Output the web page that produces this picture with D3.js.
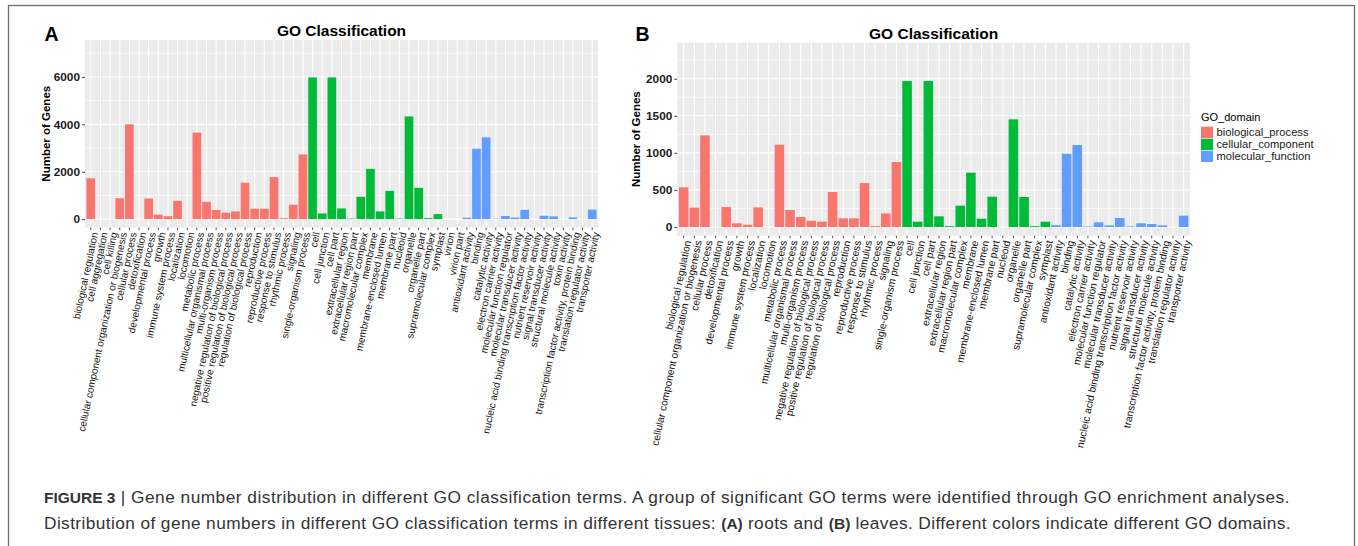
<!DOCTYPE html>
<html>
<head>
<meta charset="utf-8">
<script src="https://cdn.jsdelivr.net/npm/d3@7"></script>
<style>
  body { margin: 0; background: #fff; }
  svg { display: block; font-family: "Liberation Sans", Arial, Helvetica, sans-serif; }
</style>
</head>
<body>
<svg id="fig" width="1358" height="546"></svg>
<script>
/* GO terms and gene counts */

// panel A (roots)
var bpTermsA = ["biological regulation", "cell aggregation", "cell killing",
  "cellular component organization or biogenesis", "cellular process", "detoxification",
  "developmental process", "growth", "immune system process", "localization", "locomotion",
  "metabolic process", "multicellular organismal process", "multi-organism process",
  "negative regulation of biological process", "positive regulation of biological process",
  "regulation of biological process", "reproduction", "reproductive process",
  "response to stimulus", "rhythmic process", "signaling", "single-organism process"];
var bpValsA = [1720, 3, 3, 880, 4000, 5, 870, 190, 120, 770, 10, 3650, 730, 385, 270, 325,
  1535, 437, 437, 1770, 35, 605, 2730];

var ccTermsA = ["cell", "cell junction", "cell part", "extracellular region",
  "extracellular region part", "macromolecular complex", "membrane", "membrane-enclosed lumen",
  "membrane part", "nucleoid", "organelle", "organelle part", "supramolecular complex",
  "symplast", "virion", "virion part"];
var ccValsA = [5980, 235, 5980, 450, 20, 940, 2120, 325, 1190, 20, 4330, 1320, 40, 210, 0, 0];

var mfTermsA = ["antioxidant activity", "binding", "catalytic activity", "electron carrier activity",
  "molecular function regulator", "molecular transducer activity",
  "nucleic acid binding transcription factor activity", "nutrient reservoir activity",
  "signal transducer activity", "structural molecule activity", "toxin activity",
  "transcription factor activity, protein binding", "translation regulator activity",
  "transporter activity"];
var mfValsA = [55, 2970, 3450, 15, 130, 60, 390, 0, 140, 115, 0, 70, 0, 400];

// panel B (leaves)
var bpTermsB = ["biological regulation", "cellular component organization or biogenesis",
  "cellular process", "detoxification", "developmental process", "growth",
  "immune system process", "localization", "locomotion", "metabolic process",
  "multicellular organismal process", "multi-organism process",
  "negative regulation of biological process", "positive regulation of biological process",
  "regulation of biological process", "reproduction", "reproductive process",
  "response to stimulus", "rhythmic process", "signaling", "single-organism process"];
var bpValsB = [535, 261, 1236, 0, 270, 50, 31, 265, 0, 1110, 229, 135, 85, 72, 472, 117, 117,
  593, 13, 184, 876];

var ccTermsB = ["cell", "cell junction", "cell part", "extracellular region",
  "extracellular region part", "macromolecular complex", "membrane", "membrane-enclosed lumen",
  "membrane part", "nucleoid", "organelle", "organelle part", "supramolecular complex", "symplast"];
var ccValsB = [1969, 72, 1969, 144, 12, 288, 733, 112, 409, 0, 1452, 405, 12, 72];

var mfTermsB = ["antioxidant activity", "binding", "catalytic activity", "electron carrier activity",
  "molecular function regulator", "molecular transducer activity",
  "nucleic acid binding transcription factor activity", "nutrient reservoir activity",
  "signal transducer activity", "structural molecule activity",
  "transcription factor activity, protein binding", "translation regulator activity",
  "transporter activity"];
var mfValsB = [25, 989, 1106, 8, 63, 22, 121, 8, 50, 40, 22, 0, 153];

var domains = ["biological_process", "cellular_component", "molecular_function"];
var domainColors = ["#F8766D", "#00BA38", "#619CFF"];

var yTicksA = [0, 2000, 4000, 6000];
var yMinorA = [1000, 3000, 5000, 7000];
var yTicksB = [0, 500, 1000, 1500, 2000];
var yMinorB = [250, 750, 1250, 1750, 2250];

/* build rows for one panel */
var makeRows = function(groups) {
  var rows = [];
  groups.forEach(function(g, i) {
    g[0].forEach(function(t, j) {
      rows.push({ term: t, value: g[1][j], domain: domains[i] });
    });
  });
  return rows;
};

var svg = d3.select('#fig');
var color = d3.scaleOrdinal().domain(domains).range(domainColors);

// thin frame round the whole figure
svg.append('rect')
  .attr('x', 8.5).attr('y', 5.5).attr('width', 1346).attr('height', 560)
  .attr('fill', 'none').attr('stroke', '#6e6e6e').attr('stroke-width', 1.3);

var drawPanel = function(p) {
  var g = svg.append('g');
  var rows = p.rows;

  var x = d3.scaleBand().domain(rows.map(function(d) { return d.term; }))
    .range([p.left, p.right]).paddingInner(0.1).paddingOuter(0.15);
  var y = d3.scaleLinear().domain(p.yDomain).range([p.bottom, p.top]);
  var bw = x.bandwidth();

  g.append('rect')
    .attr('x', p.left).attr('y', p.top)
    .attr('width', p.right - p.left).attr('height', p.bottom - p.top)
    .attr('fill', '#EBEBEB');

  // grid
  g.selectAll('.minor').data(p.minor).enter().append('line')
    .attr('x1', p.left).attr('x2', p.right)
    .attr('y1', function(d) { return y(d); }).attr('y2', function(d) { return y(d); })
    .attr('stroke', '#fff').attr('stroke-width', 0.6);
  g.selectAll('.major').data(p.ticks).enter().append('line')
    .attr('x1', p.left).attr('x2', p.right)
    .attr('y1', function(d) { return y(d); }).attr('y2', function(d) { return y(d); })
    .attr('stroke', '#fff').attr('stroke-width', 1.1);
  g.selectAll('.vgrid').data(rows).enter().append('line')
    .attr('x1', function(d) { return x(d.term) + bw / 2; })
    .attr('x2', function(d) { return x(d.term) + bw / 2; })
    .attr('y1', p.top).attr('y2', p.bottom)
    .attr('stroke', '#fff').attr('stroke-width', 1.1);

  // bars
  g.selectAll('.bar').data(rows.filter(function(d) { return d.value > 0; })).enter().append('rect')
    .attr('x', function(d) { return x(d.term); })
    .attr('y', function(d) { return y(d.value); })
    .attr('width', bw)
    .attr('height', function(d) { return y(0) - y(d.value); })
    .attr('fill', function(d) { return color(d.domain); });

  // y axis
  var ya = g.append('g').attr('transform', 'translate(' + p.left + ',0)')
    .call(d3.axisLeft(y).tickValues(p.ticks).tickSize(3).tickPadding(2).tickFormat(d3.format('d')));
  ya.select('.domain').remove();
  ya.selectAll('line').attr('stroke', '#444');
  ya.selectAll('text').attr('font-size', 11.8).attr('font-weight', 'bold').attr('fill', '#1a1a1a')
    .attr('font-family', null);

  // x axis with steep labels
  var xa = g.append('g').attr('transform', 'translate(0,' + p.bottom + ')')
    .call(d3.axisBottom(x).tickSize(2.5));
  xa.select('.domain').remove();
  xa.selectAll('line').attr('stroke', '#555');
  xa.selectAll('text')
    .attr('y', 0).attr('x', 0).attr('dy', '0.75em')
    .attr('transform', 'translate(0,4) rotate(-78)')
    .attr('text-anchor', 'end')
    .attr('font-size', p.labelSize).attr('fill', '#111').attr('font-family', null);

  // titles
  g.append('text').attr('x', (p.left + p.right) / 2).attr('y', p.titleY)
    .attr('text-anchor', 'middle').attr('font-size', 15.5).attr('font-weight', 'bold')
    .text('GO Classification');
  g.append('text')
    .attr('transform', 'translate(' + p.yTitleX + ',' + (p.top + p.bottom) / 2 + ') rotate(-90)')
    .attr('text-anchor', 'middle').attr('font-size', 11.5).attr('font-weight', 'bold')
    .text('Number of Genes');
  g.append('text').attr('x', p.letterX).attr('y', 40.5)
    .attr('font-size', 19.5).attr('font-weight', 'bold').text(p.letter);
};

drawPanel({
  rows: makeRows([[bpTermsA, bpValsA], [ccTermsA, ccValsA], [mfTermsA, mfValsA]]),
  left: 85, right: 598, top: 40, bottom: 227.5,
  yDomain: [-355, 7560], ticks: yTicksA, minor: yMinorA, labelSize: 10,
  titleY: 35.5, yTitleX: 50, letter: 'A', letterX: 44.5
});

drawPanel({
  rows: makeRows([[bpTermsB, bpValsB], [ccTermsB, ccValsB], [mfTermsB, mfValsB]]),
  left: 677.3, right: 1190, top: 42.7, bottom: 235.7,
  yDomain: [-117, 2486], ticks: yTicksB, minor: yMinorB, labelSize: 10.3,
  titleY: 38.5, yTitleX: 640, letter: 'B', letterX: 635.5
});

// legend
var lg = svg.append('g').attr('transform', 'translate(1201,0)');
lg.append('text').attr('x', 0).attr('y', 120.5).attr('font-size', 11).text('GO_domain');
var items = lg.selectAll('.item').data(domains).enter().append('g')
  .attr('transform', function(d, i) { return 'translate(0,' + (126.7 + i * 12) + ')'; });
items.append('rect').attr('width', 12).attr('height', 11.3)
  .attr('fill', function(d) { return color(d); });
items.append('text').attr('x', 15.5).attr('y', 9).attr('font-size', 11.2)
  .attr('fill', '#1a1a1a').text(function(d) { return d; });

// caption: pieces of [text, bold]
var captionLine1 = [["FIGURE 3", true], [" | Gene number distribution in different GO classification terms. A group of significant GO terms were identified through GO enrichment analyses.", false]];
var captionLine2 = [["Distribution of gene numbers in different GO classification terms in different tissues: ", false],
  ["(A)", true], [" roots and ", false], ["(B)", true],
  [" leaves. Different colors indicate different GO domains.", false]];

var writeLine = function(pieces, yPos, target) {
  var t = svg.append('text').attr('x', 44).attr('y', yPos).attr('fill', '#333');
  var regular = [];
  pieces.forEach(function(pc) {
    var s = t.append('tspan').text(pc[0])
      .attr('font-size', pc[1] ? 15.5 : 17.3)
      .attr('font-weight', pc[1] ? 'bold' : 'normal');
    if (!pc[1]) regular.push([s, pc[0].length]);
  });
  // stretch the regular text so the line ends where the printed one does
  var w = t.node().getComputedTextLength();
  var n = d3.sum(regular, function(r) { return r[1]; });
  var ls = (target - w) / n;
  regular.forEach(function(r) { r[0].attr('letter-spacing', ls); });
};
writeLine(captionLine1, 502.5, 1246);
writeLine(captionLine2, 528.5, 1247);
</script>
</body>
</html>
